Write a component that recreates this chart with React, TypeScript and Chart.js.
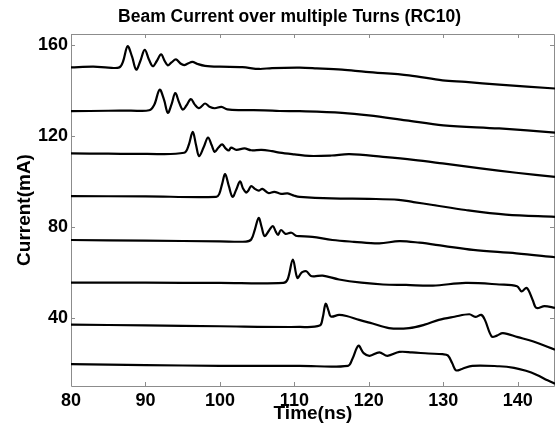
import React, { useEffect, useRef } from "react";
import { Chart, registerables } from "chart.js";

Chart.register(...registerables);

const TITLE = "Beam Current over multiple Turns (RC10)";
const X_LABEL = "Time(ns)";
const Y_LABEL = "Current(mA)";
const X_TICKS = [80, 90, 100, 110, 120, 130, 140];
const Y_TICKS = [40, 80, 120, 160];

const turn1X = [80, 83, 85, 86.5, 87, 87.6, 88.2, 88.75, 89.3, 89.9, 90.5, 91, 91.5, 92.1, 92.6, 93, 93.5, 94.1, 94.7, 95.2, 95.7, 96.3, 97, 98, 100, 103, 105.3, 107, 110.7, 113, 116.4, 119.6, 125.4, 129.9, 133, 137.5, 145];
const turn1Y = [150.3, 150.6, 150.2, 150.3, 153, 159.6, 155, 149.3, 153, 158, 153.5, 150.8, 153, 156, 153, 151.2, 152.5, 153.8, 152, 151.3, 152, 152.7, 151.8, 151, 150.6, 150.4, 149.6, 150, 150.2, 149.9, 149.3, 148.3, 146.8, 144.6, 143.9, 142.7, 141];

const turn2X = [80, 85, 88, 90.5, 91.2, 91.9, 92.5, 93, 93.5, 94, 94.5, 95, 95.5, 96.1, 96.6, 97.1, 97.5, 98, 98.6, 99.3, 100.2, 101, 103, 106, 108, 110.7, 116.4, 120, 125, 130, 137.5, 145];
const turn2Y = [131, 131.2, 131.3, 131.4, 134, 140.5, 136, 130.3, 134, 139, 135, 131.7, 133.5, 136.3, 134, 132.4, 133, 134.4, 133, 132.3, 132.9, 131.8, 131.5, 131.4, 131.1, 131, 130.3, 129.2, 127, 124.8, 123.4, 121.6];

const turn3X = [80, 85, 90, 95.2, 95.8, 96.35, 96.8, 97.2, 97.8, 98.4, 98.9, 99.3, 99.8, 100.3, 100.8, 101.2, 101.5, 102.2, 103.3, 104.2, 105.6, 107, 108, 110, 112, 115, 117.4, 121.9, 126, 129.9, 135, 139.8, 145];
const turn3Y = [112.4, 112.3, 112.2, 112.7, 116, 121.9, 116, 111.2, 115, 119.4, 116, 113.1, 115, 116.4, 114.5, 113.7, 115, 114, 114.6, 113.8, 114, 113.4, 112.8, 112, 111.3, 111.5, 112.1, 110.9, 109.6, 108, 105.8, 103.9, 102.1];

const turn4X = [80, 90, 99.5, 99.9, 100.3, 100.7, 101.2, 101.7, 102.2, 102.7, 103.1, 103.5, 103.8, 104.2, 104.7, 105.2, 105.7, 106.5, 107.3, 108.2, 109.1, 110, 110.7, 115, 120, 124, 126, 128.6, 133, 138.4, 145];
const turn4Y = [93.6, 93.5, 93.3, 94.5, 99, 103.3, 98, 93.3, 96.5, 100.1, 97, 95.2, 96, 98, 96.8, 96, 96.8, 95, 95.5, 94.6, 94.8, 93.8, 93.3, 92.6, 92.4, 92, 91, 89.7, 87.5, 85.5, 84.5];

const turn5X = [80, 90, 100, 103.5, 104.2, 104.7, 105.2, 105.6, 106, 106.6, 107.1, 107.5, 107.8, 108.2, 108.8, 109.6, 110.2, 110.7, 112.4, 115.1, 118, 121.4, 124.1, 126.8, 130, 134, 139.8, 145];
const turn5Y = [74.3, 74, 73.7, 73.6, 74.5, 79, 84, 80, 76, 78.5, 80.4, 78, 76.5, 78.7, 77, 77.5, 76.2, 76, 75.7, 74.3, 73.5, 72.8, 73.8, 73.1, 71.7, 69.9, 68.4, 66.7];

const turn6X = [80, 90, 100, 108.5, 109.1, 109.8, 110.4, 111, 111.6, 112.2, 112.7, 113.8, 116, 119, 121.9, 125, 128.6, 133, 137.5, 139.9, 140.5, 141.2, 142, 142.5, 143.6, 145];
const turn6Y = [55.5, 55.5, 55.4, 55.4, 57, 65.7, 57.6, 60, 60.5, 58.5, 58.3, 58.6, 56.9, 55.5, 54.7, 54.5, 54.2, 55.4, 54.7, 53.9, 51.7, 53.2, 47.9, 44.4, 45.2, 44.4];

const turn7X = [80, 90, 100, 110.7, 113.4, 113.8, 114.2, 114.6, 114.9, 116, 117, 118.7, 120.5, 122.7, 125.4, 127.5, 129.4, 131.5, 133.5, 134.3, 135.1, 135.6, 136.5, 137.2, 138, 140, 142, 145];
const turn7Y = [37, 36.7, 36.3, 36, 36.6, 40, 46.2, 43, 40.6, 41.3, 40.8, 39.1, 37.5, 35.5, 35.5, 37, 39.1, 40.5, 41.6, 40.4, 41.3, 39, 31.8, 32.2, 33.3, 31.5, 29.7, 26];

const turn8X = [80, 90, 100, 110.7, 117.2, 117.8, 118.6, 119.3, 120.1, 121.4, 122.5, 124.1, 125.8, 128, 129.9, 130.6, 131.2, 131.7, 132.5, 133.9, 137.5, 139.5, 141.1, 142.5, 144, 145];
const turn8Y = [19.6, 19.2, 18.9, 18.9, 18.9, 22, 27.7, 24.5, 23.3, 24.8, 23.3, 25, 24.8, 24.3, 24, 23.5, 20, 16.9, 17.5, 18.9, 18.7, 18, 16.7, 15, 12.5, 11];

const TURNS_X = [turn1X, turn2X, turn3X, turn4X, turn5X, turn6X, turn7X, turn8X];
const TURNS_Y = [turn1Y, turn2Y, turn3Y, turn4Y, turn5Y, turn6Y, turn7Y, turn8Y];

const FONT_FAMILY = "'Liberation Sans', Arial, sans-serif";
const AXIS_COLOR = "#8c8c8c";

const boxPlugin = {
  id: "matlabBox",
  beforeDatasetsDraw(chart: any) {
    const { ctx, chartArea } = chart;
    const { left, right, top, bottom } = chartArea;
    const xs = chart.scales.x;
    const ys = chart.scales.y;
    const tl = 4;
    ctx.save();
    ctx.strokeStyle = AXIS_COLOR;
    ctx.lineWidth = 1;
    ctx.beginPath();
    ctx.rect(Math.round(left) + 0.5, Math.round(top) + 0.5, Math.round(right - left) - 1, Math.round(bottom - top));
    ctx.stroke();
    ctx.beginPath();
    X_TICKS.forEach((v) => {
      const px = Math.round(xs.getPixelForValue(v)) + 0.5;
      ctx.moveTo(px, bottom);
      ctx.lineTo(px, bottom - tl);
      ctx.moveTo(px, top);
      ctx.lineTo(px, top + tl);
    });
    Y_TICKS.forEach((v) => {
      const py = Math.round(ys.getPixelForValue(v)) + 0.5;
      ctx.moveTo(left, py);
      ctx.lineTo(left + tl, py);
      ctx.moveTo(right - 1, py);
      ctx.lineTo(right - 1 - tl, py);
    });
    ctx.stroke();
    ctx.restore();
  },
  afterDraw(chart: any) {
    const { ctx } = chart;
    ctx.save();
    ctx.fillStyle = "#000000";
    ctx.font = "bold 17.5px " + FONT_FAMILY;
    ctx.textAlign = "center";
    ctx.textBaseline = "middle";
    ctx.fillText(TITLE, 289.5, 17);
    ctx.restore();
  },
};

export default function App() {
  const ref = useRef<HTMLCanvasElement>(null);

  useEffect(() => {
    document.body.style.margin = "0";
    const canvas = ref.current;
    if (!canvas) return;
    const datasets = TURNS_X.map((xs, i) => ({
      label: "Turn " + (i + 1),
      data: xs.map((x, j) => ({ x, y: TURNS_Y[i][j] })),
      borderColor: "#000000",
      backgroundColor: "#000000",
      borderWidth: 2.2,
      pointRadius: 0,
      tension: 0.35,
      fill: false,
    }));
    const chart = new Chart(canvas, {
      type: "line",
      data: { datasets },
      options: {
        animation: false,
        responsive: false,
        maintainAspectRatio: false,
        devicePixelRatio: 1,
        layout: { padding: { top: 34, left: 0, right: 0, bottom: 0 } },
        plugins: {
          legend: { display: false },
          tooltip: { enabled: false },
          title: { display: false },
        },
        scales: {
          x: {
            type: "linear",
            min: 80,
            max: 145,
            grid: { display: false, drawTicks: false },
            border: { display: false },
            ticks: {
              color: "#000000",
              font: { family: FONT_FAMILY, size: 18, weight: "bold" },
              padding: 4,
              maxRotation: 0,
              autoSkip: false,
            },
            afterBuildTicks: (scale: any) => {
              scale.ticks = X_TICKS.map((v) => ({ value: v }));
            },
            afterFit: (scale: any) => {
              scale.height = 43;
            },
            title: {
              display: true,
              text: X_LABEL,
              color: "#000000",
              font: { family: FONT_FAMILY, size: 19, weight: "bold", lineHeight: 1.2 },
              padding: { top: 0, bottom: 4 },
            },
          },
          y: {
            type: "linear",
            min: 10,
            max: 165,
            grid: { display: false, drawTicks: false },
            border: { display: false },
            ticks: {
              color: "#000000",
              font: { family: FONT_FAMILY, size: 18, weight: "bold" },
              padding: 3,
              autoSkip: false,
            },
            afterBuildTicks: (scale: any) => {
              scale.ticks = Y_TICKS.map((v) => ({ value: v }));
            },
            afterFit: (scale: any) => {
              scale.width = 71;
            },
            title: {
              display: true,
              text: Y_LABEL,
              color: "#000000",
              font: { family: FONT_FAMILY, size: 19, weight: "bold", lineHeight: 1.2 },
              padding: { top: 13, bottom: 0 },
            },
          },
        },
      },
      plugins: [boxPlugin],
    });
    return () => chart.destroy();
  }, []);

  return (
    <div style={{ position: "absolute", left: 0, top: 0, width: 555, height: 429, background: "#ffffff" }}>
      <canvas ref={ref} width={555} height={429} style={{ width: 555, height: 429 }} />
    </div>
  );
}
